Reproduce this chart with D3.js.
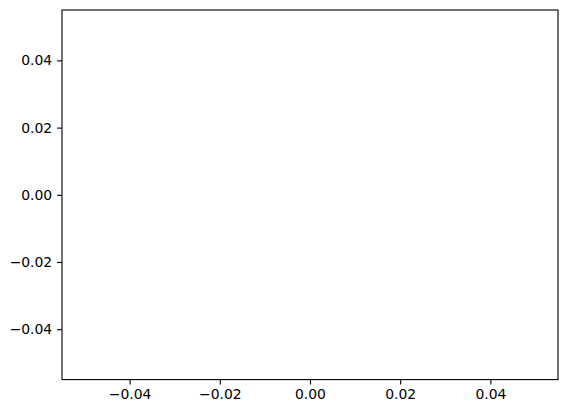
<!DOCTYPE html>
<html lang="en">
<head>
<meta charset="utf-8">
<title>Empty axes</title>
<script src="https://d3js.org/d3.v7.min.js"></script>
<style>
  html, body { margin: 0; padding: 0; background: #fff; }
  .tick text { font-family: "DejaVu Sans", sans-serif; font-size: 13.9px; fill: #000; }
  .tick line { stroke: #000; stroke-width: 1.1; }
  .domain { display: none; }
</style>
</head>
<body>
<div class="chart"></div>
<script>
  // the plot is empty: only the axis ranges and tick values
  var xDomain = [-0.055, 0.055];
  var yDomain = [-0.055, 0.055];
  var xTicks = [-0.04, -0.02, 0.00, 0.02, 0.04];
  var yTicks = [-0.04, -0.02, 0.00, 0.02, 0.04];

  var W = 568, H = 413,
      m = {top: 10, right: 10, bottom: 33.4, left: 62},
      w = W - m.left - m.right,
      h = H - m.top - m.bottom;

  var fmt = function(d){ return d3.format(".2f")(d).replace("-", "\u2212"); };

  var svg = d3.select(".chart").append("svg")
    .attr("width", W)
    .attr("height", H)
    .append("g")
      .attr("transform", "translate(" + m.left + "," + m.top + ")");

  var x = d3.scaleLinear().domain(xDomain).range([0, w]);
  var y = d3.scaleLinear().domain(yDomain).range([h, 0]);

  svg.append("g")
    .attr("transform", "translate(0," + h + ")")
    .call(d3.axisBottom(x).tickValues(xTicks).tickFormat(fmt).tickSize(4.9).tickPadding(4.9));

  svg.append("g")
    .call(d3.axisLeft(y).tickValues(yTicks).tickFormat(fmt).tickSize(4.9).tickPadding(4.9));

  svg.append("rect")
    .attr("width", w)
    .attr("height", h)
    .style("fill", "none")
    .style("stroke", "#000")
    .style("stroke-width", "1.1");
</script>
</body>
</html>
